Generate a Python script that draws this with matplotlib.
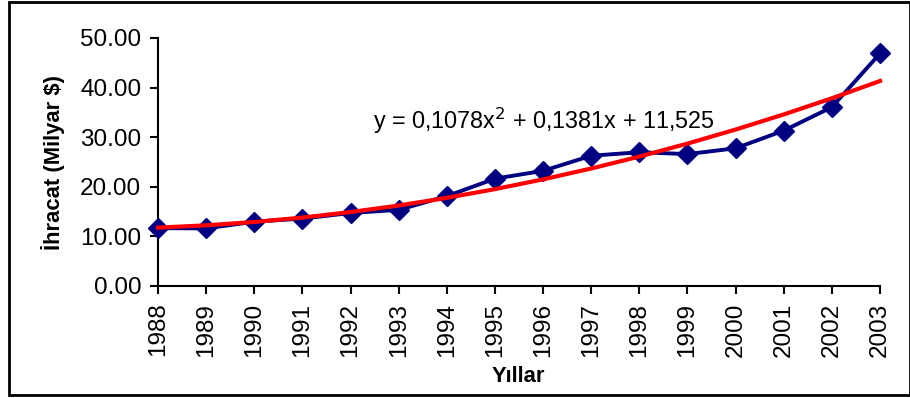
import matplotlib.pyplot as plt
from matplotlib.patches import Rectangle

# Veriler
yillar = ['1988', '1989', '1990', '1991', '1992', '1993', '1994', '1995',
          '1996', '1997', '1998', '1999', '2000', '2001', '2002', '2003']
ihracat = [11.66, 11.62, 12.96, 13.59, 14.72, 15.35, 18.11, 21.64,
           23.22, 26.26, 26.97, 26.59, 27.77, 31.33, 36.06, 46.88]
trend = [11.77, 12.23, 12.91, 13.80, 14.91, 16.23, 17.77, 19.53,
         21.50, 23.69, 26.09, 28.71, 31.54, 34.59, 37.85, 41.33]
y_ticks = [0, 10, 20, 30, 40, 50]

plt.rcParams['font.family'] = ['Liberation Sans', 'DejaVu Sans']

W, H = 910, 398
fig = plt.figure(figsize=(W / 100, H / 100), dpi=100)
ax = fig.add_axes([158 / W, 1 - 286 / H, (880 - 158) / W, (286 - 38) / H])

x = list(range(len(yillar)))
ax.plot(x, ihracat, color='#000080', lw=2.8, marker='D', ms=10.5,
        clip_on=False, zorder=3)
ax.plot(x, trend, color='#ff0000', lw=3, clip_on=False, zorder=4)

ax.set_xlim(0, len(yillar) - 1)
ax.set_ylim(0, 50)
ax.set_xticks(x)
ax.set_xticklabels(yillar, rotation=90, fontsize=17.5)
ax.set_yticks(y_ticks)
ax.set_yticklabels([f'{v:.2f}' for v in y_ticks], fontsize=17.5)
ax.tick_params(direction='out', length=6, width=1.5, color='black', pad=6)

for s in ['top', 'right']:
    ax.spines[s].set_visible(False)
for s in ['left', 'bottom']:
    ax.spines[s].set_linewidth(1.5)

ax.set_ylabel('İhracat (Milyar $)', fontsize=15.8, fontweight='bold')
ax.yaxis.set_label_coords((65 - 158) / 722, 0.5)
fig.text(518 / W, 1 - 376 / H, 'Yıllar', fontsize=15.8, fontweight='bold',
         ha='center', va='center')

fig.text(373 / W, 1 - 121 / H, 'y = 0,1078x$^2$ + 0,1381x + 11,525',
         fontsize=16.8, ha='left', va='center')

fig.patches.append(Rectangle((9 / W, 3 / H), (W - 9) / W, (H - 5) / H,
                             transform=fig.transFigure, fill=False,
                             edgecolor='black', lw=2))

fig.savefig('out.png', dpi=100)
